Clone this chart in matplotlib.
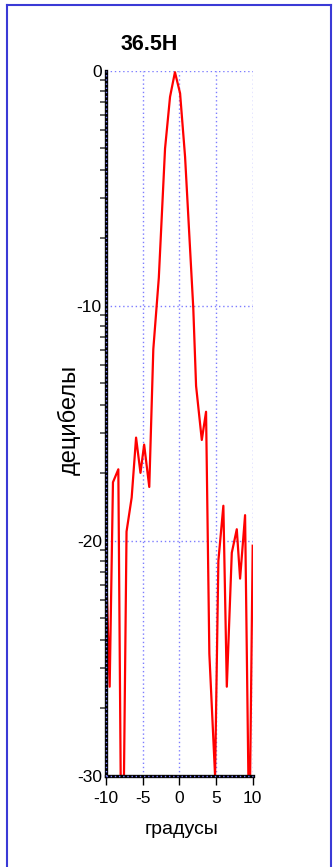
import numpy as np
import matplotlib
matplotlib.use("Agg")
import matplotlib.pyplot as plt
from matplotlib.lines import Line2D

plt.rcParams['font.family'] = ['Liberation Sans', 'DejaVu Sans']
plt.rcParams['axes.unicode_minus'] = False

# angle (degrees) and level (dB)
angles = [-10.0, -9.5, -9.05, -8.32, -8.0, -7.55, -7.2, -6.5, -5.9, -5.3, -4.8, -4.1,
          -3.55, -2.8, -1.95, -1.27, -0.6, 0.1, 0.78, 1.9, 2.28, 3.06, 3.64, 4.09,
          4.87, 5.32, 6.0, 6.47, 7.15, 7.83, 8.28, 8.96, 9.41, 9.65, 10.0]
levels = [-21.0, -26.2, -17.5, -16.95, -30.0, -30.0, -19.6, -18.15, -15.6, -17.1, -15.9, -17.7,
          -11.84, -8.8, -3.3, -1.1, -0.05, -0.95, -3.65, -10.1, -13.4, -15.7, -14.5, -24.8,
          -30.0, -20.85, -18.5, -26.2, -20.5, -19.5, -21.6, -18.9, -30.0, -30.0, -20.2]

x_ticks = [-10, -5, 0, 5, 10]
y_ticks = [0, -10, -20, -30]
title = '36.5H'
x_title = 'градусы'
y_title = 'децибелы'

W, H = 334, 867
fig = plt.figure(figsize=(W / 100, H / 100), dpi=100)
ax = fig.add_axes([106 / W, 1 - 776 / H, (252.7 - 106) / W, (776 - 71) / H])

grid_col = '#7d7dff'
ax.plot(angles, levels, color='red', lw=1.6, zorder=2)

ax.set_xlim(-10, 10)
ax.set_ylim(-30, 0)

ax.set_xticks(x_ticks)
ax.set_xticklabels([str(t) for t in x_ticks])
ax.set_yticks(y_ticks)
ax.set_yticklabels([str(t) for t in y_ticks])

# minor ticks on the value axis, log-like within each decade
minor = []
for low in (-30, -20, -10):
    for k in range(2, 11):
        minor.append(low + 10 * np.log10(k) / np.log10(11))
ax.set_yticks(minor, minor=True)

ax.tick_params(axis='x', direction='out', length=6.5, width=1.0, color='black',
               labelsize=12.5, pad=4)
ax.tick_params(axis='y', which='major', length=0, labelsize=12.5, pad=3)
ax.tick_params(axis='y', which='minor', direction='out', length=4, width=1.3, color='#555555')

for s in ('top', 'right'):
    ax.spines[s].set_visible(False)
ax.spines['left'].set_linewidth(2.4)
ax.spines['bottom'].set_linewidth(2.4)

for v in [-5, 0, 5, 10]:
    ax.axvline(v, color=grid_col, lw=1.0, ls=(0, (1, 2)), zorder=1)
for v in [0, -10, -20]:
    ax.axhline(v, color=grid_col, lw=1.0, ls=(0, (1, 2)), zorder=1)
# dotted overlay on the axis lines
ax.axhline(-30, color=grid_col, lw=1.0, ls=(0, (1, 2)), zorder=4, clip_on=False)
ax.axvline(-10, color=grid_col, lw=1.0, ls=(0, (1, 2)), zorder=4, clip_on=False)

fig.text(149 / W, 1 - 45 / H, title, fontsize=15.5, fontweight='bold', ha='center', va='center')
fig.text(182 / W, 1 - 829 / H, x_title, fontsize=14, ha='center', va='center')
fig.text(69 / W, 1 - 420 / H, y_title, fontsize=17, ha='center', va='center', rotation=90)

# blue frame around the chart panel
frame = '#3a3ad6'
fig.add_artist(Line2D([7 / W, 7 / W], [0, 1 - 5 / H], transform=fig.transFigure, color=frame, lw=1.5))
fig.add_artist(Line2D([7 / W, 331 / W], [1 - 5 / H, 1 - 5 / H], transform=fig.transFigure, color=frame, lw=1.5))
fig.add_artist(Line2D([331 / W, 331 / W], [0, 1 - 5 / H], transform=fig.transFigure, color=frame, lw=1.5))

fig.savefig('out.png', dpi=100)
